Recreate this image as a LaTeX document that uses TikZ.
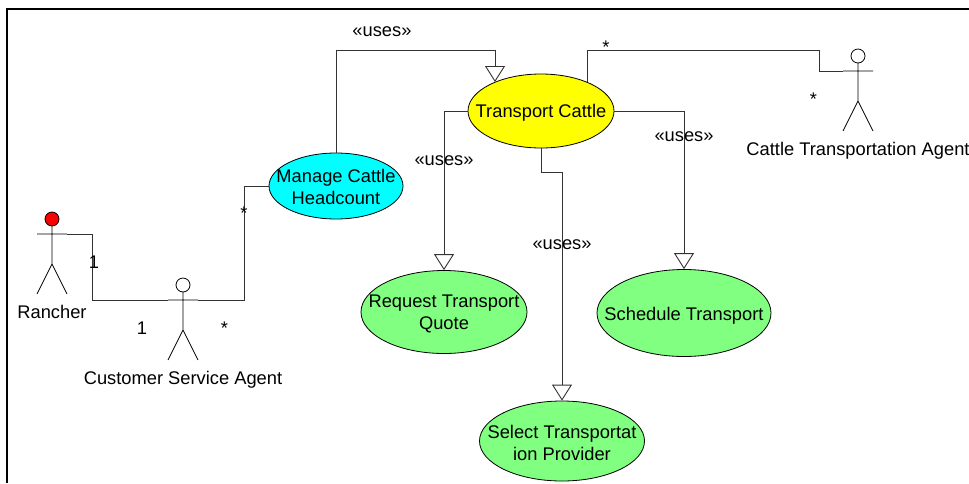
\documentclass[tikz,border=0pt]{standalone}
\usepackage{fontspec}
\setmainfont{Liberation Sans}
\usetikzlibrary{shapes.geometric,arrows.meta}
\definecolor{ucyellow}{HTML}{FFFF00}
\definecolor{uccyan}{HTML}{00FFFF}
\definecolor{ucgreen}{HTML}{80FF80}
\definecolor{linegray}{HTML}{333333}
\begin{document}
\begin{tikzpicture}[x=1pt,y=-1pt,
  txt/.style={font=\fontsize{18.3}{22}\selectfont},
  uc/.style={ellipse,draw=black,line width=0.8pt,inner sep=0pt},
  uctext/.style={txt,align=center,inner sep=0pt},
  lbl/.style={anchor=base,inner sep=0pt,txt},
  conn/.style={draw=linegray,line width=0.9pt},
  uses/.style={conn,-{Triangle[open,width=20pt,length=16pt]}},
  pics/actor/.style={code={
    \draw[line width=0.8pt,fill=#1] (0,-15) circle[radius=7];
    \draw[line width=0.8pt] (-15,0) -- (15,0) (0,-8) -- (0,30) (-15,60) -- (0,30) -- (15,60);
    \coordinate (-w) at (-15,0);
    \coordinate (-e) at (15,0);
  }}
]
\useasboundingbox (0,0) rectangle (969,483);
\fill[white] (0,0) rectangle (969,483);
% frame
\draw[line width=2pt,black] (7,483) -- (7,9) -- (969,9);

% use cases
\node[uc,fill=ucyellow,minimum width=146pt,minimum height=74pt,
  label={[uctext,yshift=-2pt]center:Transport Cattle}] (tc) at (541,111) {};
\node[uc,fill=uccyan,minimum width=134pt,minimum height=66pt,
  label={[uctext,yshift=-1pt]center:Manage Cattle\\Headcount}] (mc) at (336,186) {};
\node[uc,fill=ucgreen,minimum width=166pt,minimum height=83pt,
  label={[uctext,yshift=-2pt]center:Request Transport\\Quote}] (rq) at (444,312) {};
\node[uc,fill=ucgreen,minimum width=174pt,minimum height=87pt,
  label={[uctext,yshift=-3pt]center:Schedule Transport}] (sch) at (684,313) {};
\node[uc,fill=ucgreen,minimum width=165pt,minimum height=80pt,
  label={[uctext,yshift=-2pt]center:Select Transportat\\ion Provider}] (sel) at (562,441) {};

% actors
\pic (ra) at (52,234) {actor=red};
\pic (csa) at (183,300) {actor=white};
\pic (cta) at (858,71) {actor=white};
\node[lbl] (ral) at (52,318) {Rancher};
\node[lbl] (csal) at (183,384) {Customer Service Agent};
\node[lbl] (ctal) at (858,155) {Cattle Transportation Agent};

% bend points
\coordinate (b1) at (495,50);
\coordinate (b2) at (562,172);
\coordinate (b3) at (819,50);
\coordinate (b4) at (92,300);
\coordinate (b5) at (244,186);

% uses connectors
\draw[uses] (mc.north) |- (b1) -- (b1 |- tc.148);
\draw[uses] (tc.west) -| (rq.north);
\draw[uses] (tc.south) |- (b2) -- (sel.north);
\draw[uses] (tc.east) -| (sch.north);

% associations
\draw[conn] (ra-e) -| (b4) -- (csa-w);
\draw[conn] (csa-e) -| (b5) -- (mc.west);
\draw[conn] (tc.32) |- (b3) |- (cta-w);

% labels
\node[lbl] (u1) at (382,36) {«uses»};
\node[lbl] (u2) at (444,165) {«uses»};
\node[lbl] (u3) at (684,141) {«uses»};
\node[lbl] (u4) at (562,249) {«uses»};
\node[lbl] (m1) at (94,268) {1};
\node[lbl] (m2) at (142,334) {1};
\node[lbl] (m3) at (224.5,334) {*};
\node[lbl] (m4) at (244,219.5) {*};
\node[lbl] (m5) at (606,53.5) {*};
\node[lbl] (m6) at (813.5,105) {*};
\end{tikzpicture}
\end{document}
